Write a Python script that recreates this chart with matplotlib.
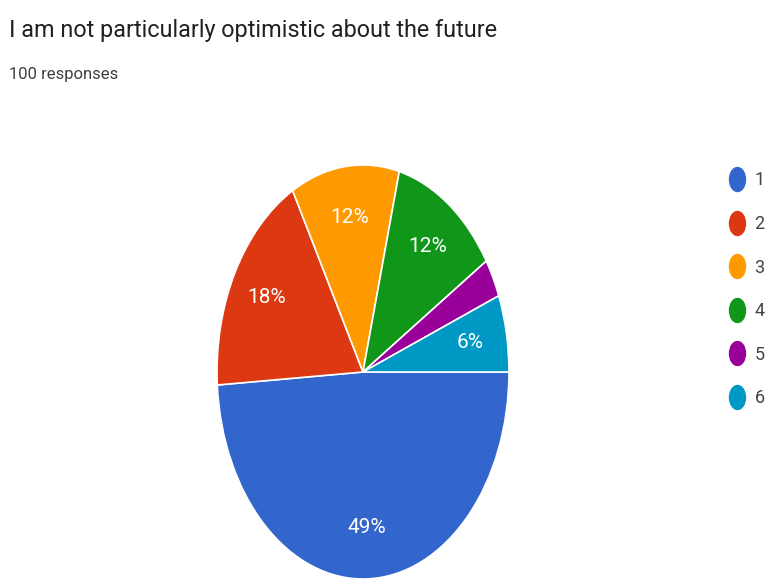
import matplotlib
matplotlib.use("Agg")
import matplotlib.pyplot as plt
from matplotlib.lines import Line2D
from matplotlib.markers import MarkerStyle
from matplotlib.transforms import Affine2D

title = "I am not particularly optimistic about the future"
subtitle = "100 responses"
answers = ["1", "2", "3", "4", "5", "6"]
shares = [49, 18, 12, 12, 3, 6]
colors = ["#3366cc", "#dc3912", "#ff9900", "#109618", "#990099", "#0099c6"]

plt.rcParams['font.family'] = ['Roboto', 'DejaVu Sans']

fig = plt.figure(figsize=(7.68, 5.81), dpi=100)

# pie is stretched vertically, so the axes box is taller than wide
W, H = 768, 581
cx, cy, rx, ry = 363, 372, 146, 207
ax = fig.add_axes([(cx - rx) / W, (H - cy - ry) / H, 2 * rx / W, 2 * ry / H])


def pct(p):
    return "%d%%" % round(p) if p >= 5 else ""


wedges, texts, autotexts = ax.pie(
    shares, colors=colors, startangle=0, counterclock=False,
    autopct=pct, pctdistance=0.75,
    wedgeprops=dict(edgecolor="white", linewidth=1.2),
    textprops=dict(color="white", fontsize=15))
ax.set_aspect('auto')
ax.set_xlim(-1, 1)
ax.set_ylim(-1, 1)

fig.text(9 / W, 1 - 31 / H, title, fontsize=16.8, color="#202124", va="center")
fig.text(9 / W, 1 - 75 / H, subtitle, fontsize=12, color="#3c4043", va="center")

oval = MarkerStyle("o", transform=Affine2D().scale(1, 1.5))
handles = [Line2D([], [], marker=oval, linestyle="none", markersize=11.5,
                  markerfacecolor=c, markeredgecolor=c) for c in colors]
fig.legend(handles, answers, loc="upper left", bbox_to_anchor=(712 / W, 1 - 155 / H),
           frameon=False, fontsize=13, labelspacing=1.42, handlelength=1.0,
           handletextpad=0.45, labelcolor="#444444")

fig.savefig("out.png", dpi=100)
